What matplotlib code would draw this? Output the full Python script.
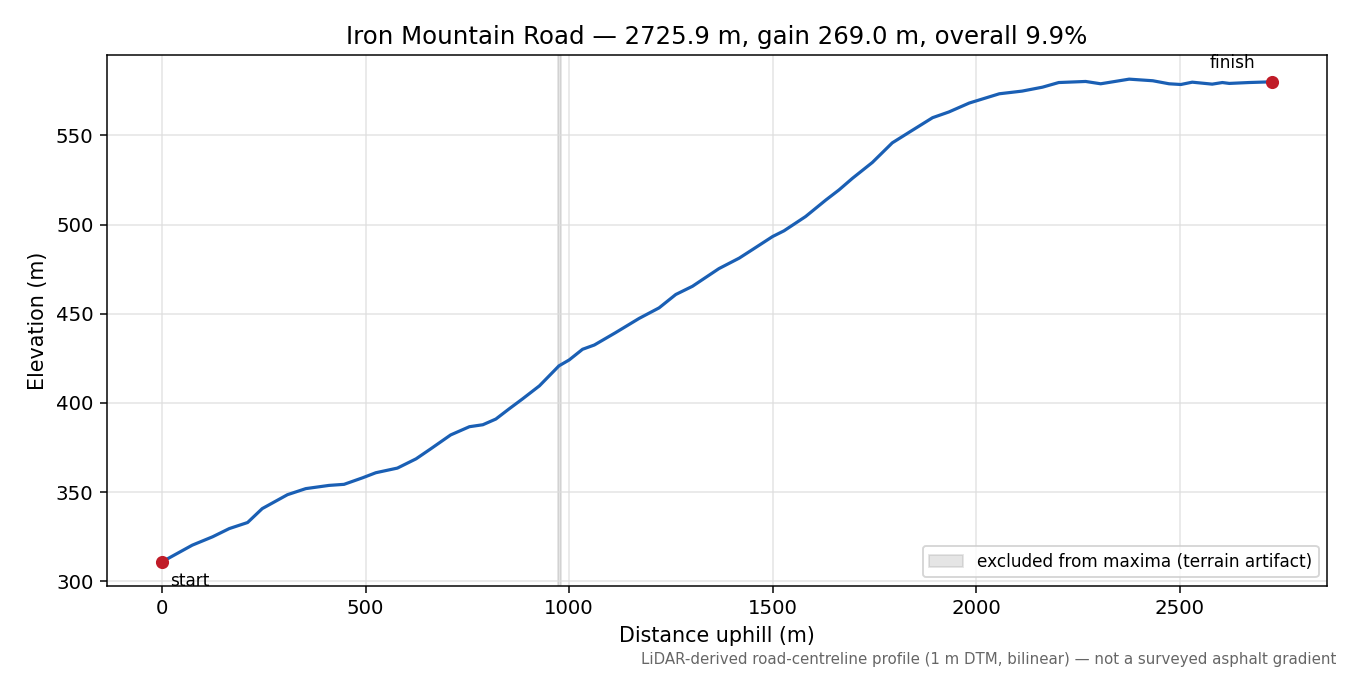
import matplotlib
matplotlib.use("Agg")
import matplotlib.pyplot as plt

# profile
dist = [0, 74, 124, 165, 210, 246, 308, 353, 410, 447,
        493, 525, 578, 624, 660, 709, 755, 788, 820, 852,
        885, 927, 975, 1000, 1033, 1062, 1114, 1172, 1221, 1262,
        1303, 1368, 1418, 1450, 1500, 1528, 1581, 1631, 1663, 1696,
        1745, 1794, 1843, 1893, 1933, 1983, 2057, 2113, 2163, 2203,
        2269, 2306, 2376, 2434, 2474, 2503, 2531, 2580, 2605, 2622,
        2670, 2725.9]
elev = [311.0, 320.3, 325.0, 329.6, 333.0, 340.8, 348.6, 352.0, 353.8, 354.4,
        358.1, 360.9, 363.5, 368.7, 374.3, 382.1, 386.7, 387.8, 391.0, 396.6,
        402.2, 409.6, 420.8, 424.1, 430.1, 432.5, 439.4, 447.4, 453.3, 460.8,
        465.4, 475.3, 481.2, 485.9, 493.3, 496.5, 504.5, 513.8, 519.4, 525.9,
        534.8, 545.8, 552.8, 559.9, 563.1, 568.1, 573.3, 574.8, 577.0, 579.6,
        580.2, 578.9, 581.5, 580.6, 578.9, 578.5, 579.8, 578.7, 579.6, 579.1,
        579.6, 580.0]

excluded = (973, 981)
length = 2725.9
gain = 269.0
overall = 9.9

fig, ax = plt.subplots(figsize=(10, 5), dpi=135)
fig.subplots_adjust(left=0.079, right=0.983, top=0.9185, bottom=0.132)

ax.axvspan(excluded[0], excluded[1], facecolor="#8a8a8a", edgecolor="#8a8a8a",
           alpha=0.22, lw=1, label="excluded from maxima (terrain artifact)")
ax.plot(dist, elev, color="#1a5fb4", lw=1.7)

ax.plot(dist[0], elev[0], "o", color="#c01c28", ms=6, zorder=5)
ax.plot(dist[-1], elev[-1], "o", color="#c01c28", ms=6, zorder=5)
ax.annotate("start", (dist[0], elev[0]), xytext=(4, -10), textcoords="offset points",
            ha="left", va="center", fontsize=9)
ax.annotate("finish", (dist[-1], elev[-1]), xytext=(-21, 10), textcoords="offset points",
            ha="center", va="center", fontsize=9)

ax.set_title("Iron Mountain Road \u2014 %.1f m, gain %.1f m, overall %.1f%%" % (length, gain, overall),
             fontsize=13)
ax.set_xlabel("Distance uphill (m)", fontsize=11)
ax.set_ylabel("Elevation (m)", fontsize=11)
ax.tick_params(labelsize=10.5)
ax.grid(True, color="#dddddd", alpha=0.8, lw=0.8)
ax.legend(loc="lower right", fontsize=9)

fig.text(0.99, 0.012, "LiDAR-derived road-centreline profile (1 m DTM, bilinear) \u2014 not a surveyed asphalt gradient",
         ha="right", va="bottom", fontsize=8, color="#666666")

fig.savefig("out.png")
